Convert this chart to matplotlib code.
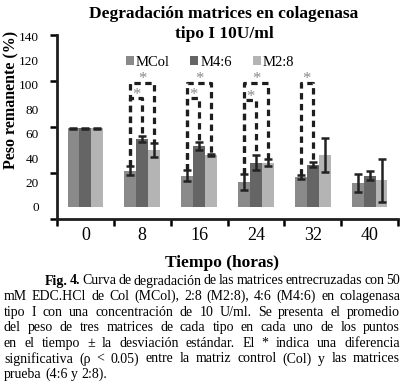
import matplotlib.pyplot as plt
import numpy as np

plt.rcParams['font.family'] = ['Liberation Serif', 'DejaVu Serif']

horas = ['0', '8', '16', '24', '32', '40']
series = ['MCol', 'M4:6', 'M2:8']
mcol = [64.5, 29.7, 25.4, 20.5, 24.6, 19.7]
mcol_sd = [0.5, 4.0, 4.5, 6.8, 1.8, 7.5]
m46 = [64.5, 55.7, 50.0, 36.3, 34.4, 25.4]
m46_sd = [0.5, 2.7, 3.1, 6.0, 2.0, 3.8]
m28 = [64.5, 46.7, 42.6, 36.3, 42.6, 21.6]
m28_sd = [0.5, 5.7, 1.0, 2.9, 14.0, 17.7]
colors = ['#8a8a8a', '#656565', '#b4b4b4']

# significance brackets: (time index, first series, second series, height)
sig = [(1, 0, 2, 102), (1, 0, 1, 89),
       (2, 0, 2, 102), (2, 0, 1, 89),
       (3, 0, 2, 102), (3, 0, 1, 88),
       (4, 0, 1, 102)]

caption = [
    "Fig. 4. Curva de degradación de las matrices entrecruzadas con 50",
    "mM EDC.HCl de Col (MCol), 2:8 (M2:8), 4:6 (M4:6) en colagenasa",
    "tipo I con una concentración de 10 U/ml. Se presenta el promedio",
    "del peso de tres matrices de cada tipo en cada uno de los puntos",
    "en el tiempo ± la desviación estándar. El * indica una diferencia",
    "significativa (ρ < 0.05) entre la matriz control (Col) y las matrices",
    "prueba (4:6 y 2:8).",
]

W, H = 405, 385
fig = plt.figure(figsize=(W / 100, H / 100), dpi=100)
ax = fig.add_axes([57 / W, 1 - 219 / H, 341 / W, 184 / H])

x = np.arange(len(horas))
w = 0.21
vals = [mcol, m46, m28]
sds = [mcol_sd, m46_sd, m28_sd]
for i in range(3):
    ax.bar(x + (i - 1) * w, vals[i], w, color=colors[i], label=series[i])
    ax.errorbar(x + (i - 1) * w, vals[i], yerr=sds[i], fmt='none', ecolor='#222222',
                elinewidth=1.8, capsize=3, capthick=1.8)

for t, a, b, h in sig:
    xa = t + (a - 1) * w
    xb = t + (b - 1) * w
    ya = vals[a][t] + sds[a][t]
    yb = vals[b][t] + sds[b][t]
    ax.plot([xa, xa, xb, xb], [ya, h, h, yb], color='#1e1e1e', lw=2.3,
            linestyle=(0, (2, 1.4)), solid_capstyle='butt')
    ax.text((xa + xb) / 2, h + 2.5, '*', ha='center', va='center', fontsize=12, color='#8a8a8a')

ax.set_xlim(-0.5, 5.5)
ax.set_ylim(-10, 141)
ax.set_xticks(x)
ax.set_xticklabels(horas, fontsize=13)
ax.set_xticks(np.arange(-0.5, 6, 1), minor=True)
ax.tick_params(axis='x', which='major', length=0, pad=6)
ax.tick_params(axis='x', which='minor', length=5, width=1.8, direction='out')
ax.set_yticks(np.arange(0, 141, 20))
ax.set_yticks(np.linspace(-10, 141, 5), minor=True)
ax.tick_params(axis='y', which='major', length=0, labelsize=9.5, pad=13)
ax.tick_params(axis='y', which='minor', length=5, width=1.8, direction='out')
for s in ['top', 'right']:
    ax.spines[s].set_visible(False)
for s in ['left', 'bottom']:
    ax.spines[s].set_linewidth(2)
    ax.spines[s].set_color('#1e1e1e')

ax.legend(loc='center', bbox_to_anchor=(210 / W, 1 - 62 / H), bbox_transform=fig.transFigure,
          ncol=3, frameon=False, fontsize=10.5, handlelength=0.55, handleheight=0.55,
          handletextpad=0.15, columnspacing=1.4)

fig.text(224 / W, 1 - 24 / H, 'Degradación matrices en colagenasa\ntipo I 10U/ml',
         ha='center', va='center', fontsize=12.5, weight='bold', linespacing=1.4)
fig.text(11 / W, 1 - 100 / H, 'Peso remanente (%)', rotation=90, ha='center', va='center',
         fontsize=11.5, weight='bold')
fig.text(222 / W, 1 - 263 / H, 'Tiempo (horas)', ha='center', va='center',
         fontsize=12.5, weight='bold')

# justified caption
r = fig.canvas.get_renderer()
cap_fs = 10
for k, line in enumerate(caption):
    y = 281 + k * 15.6
    x0 = 45 if k == 0 else 4
    words = line.split(' ')
    ts = []
    for i, wd in enumerate(words):
        bold = k == 0 and i < 2
        ts.append(fig.text(0, 1 - y / H, wd, fontsize=cap_fs, ha='left', va='center',
                           weight='bold' if bold else 'normal'))
    widths = [t.get_window_extent(r).width for t in ts]
    if k == len(caption) - 1:
        gap = 3.3
    else:
        gap = (400 - x0 - sum(widths)) / (len(words) - 1)
    xx = x0
    for t, wd in zip(ts, widths):
        t.set_x(xx / W)
        xx += wd + gap

fig.savefig('out.png', dpi=100)
